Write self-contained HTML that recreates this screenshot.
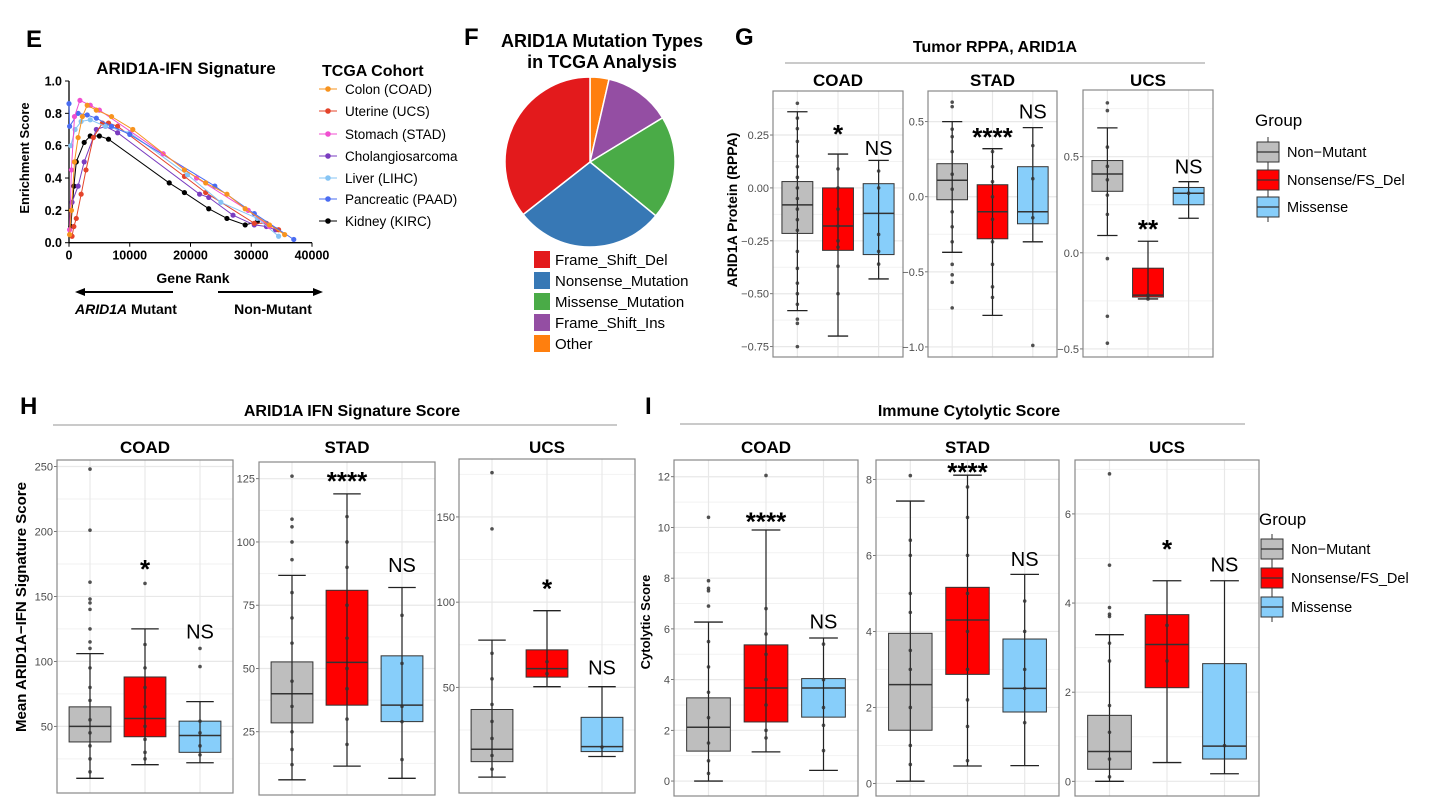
<!DOCTYPE html>
<html><head><meta charset="utf-8">
<style>
html,body{margin:0;padding:0;background:#fff;}
svg{display:block;font-family:"Liberation Sans",Arial,sans-serif;}
</style></head>
<body>
<svg id="fig" width="1439" height="809" viewBox="0 0 1439 809" xmlns="http://www.w3.org/2000/svg">
<!-- Panel letters -->
<text x="26" y="47" font-size="24" font-weight="bold">E</text>
<text x="464" y="45" font-size="24" font-weight="bold">F</text>
<text x="735" y="45" font-size="24" font-weight="bold">G</text>
<text x="20" y="414" font-size="24" font-weight="bold">H</text>
<text x="645" y="414" font-size="24" font-weight="bold">I</text>

<!-- E -->
<g id="panelE">
<text x="186" y="74" font-size="17" font-weight="bold" text-anchor="middle">ARID1A-IFN Signature</text>
<text x="29" y="158" font-size="13" font-weight="bold" text-anchor="middle" transform="rotate(-90 29 158)">Enrichment Score</text>
<text x="193" y="283" font-size="14" font-weight="bold" text-anchor="middle">Gene Rank</text>
<line x1="173" y1="292" x2="82" y2="292" stroke="#000" stroke-width="2"/>
<polygon points="75,292 85,288 85,296" fill="#000"/>
<line x1="218" y1="292" x2="316" y2="292" stroke="#000" stroke-width="2"/>
<polygon points="323,292 313,288 313,296" fill="#000"/>
<text x="126" y="314" font-size="14" font-weight="bold" text-anchor="middle"><tspan font-style="italic">ARID1A</tspan> Mutant</text>
<text x="273" y="314" font-size="14" font-weight="bold" text-anchor="middle">Non-Mutant</text>
<text x="322" y="76" font-size="16" font-weight="bold">TCGA Cohort</text>
</g>

<!-- F -->
<g id="panelF">
<text x="602" y="47" font-size="18" font-weight="bold" text-anchor="middle">ARID1A Mutation Types</text>
<text x="602" y="68" font-size="18" font-weight="bold" text-anchor="middle">in TCGA Analysis</text>
</g>

<!-- G headers -->
<text x="995" y="52" font-size="16" font-weight="bold" text-anchor="middle">Tumor RPPA, ARID1A</text>
<line x1="785" y1="63" x2="1205" y2="63" stroke="#aaa" stroke-width="1.2"/>
<!-- H headers -->
<text x="352" y="416" font-size="16" font-weight="bold" text-anchor="middle">ARID1A IFN Signature Score</text>
<line x1="53" y1="425" x2="617" y2="425" stroke="#aaa" stroke-width="1.2"/>
<!-- I headers -->
<text x="969" y="416" font-size="16" font-weight="bold" text-anchor="middle">Immune Cytolytic Score</text>
<line x1="680" y1="424" x2="1245" y2="424" stroke="#aaa" stroke-width="1.2"/>

<text x="737" y="210" font-size="14" font-weight="bold" text-anchor="middle" transform="rotate(-90 737 210)">ARID1A Protein (RPPA)</text>
<text x="26" y="607" font-size="15" font-weight="bold" text-anchor="middle" transform="rotate(-90 26 607)">Mean ARID1A−IFN Signature Score</text>
<text x="650" y="622" font-size="13" font-weight="bold" text-anchor="middle" transform="rotate(-90 650 622)">Cytolytic Score</text>
</svg>

<script>
// ---------- Panel E data ----------
const eCohorts = ['Colon (COAD)','Uterine (UCS)','Stomach (STAD)','Cholangiosarcoma','Liver (LIHC)','Pancreatic (PAAD)','Kidney (KIRC)'];
const eColors = ['#f7931e','#e4432a','#f04fd0','#7a3cc0','#86c4f4','#4a6cf2','#000000'];
const eRankCOAD = [100,400,900,1500,2200,3000,4500,7000,10500,19000,22500,26000,29000,33000,35500];
const eEsCOAD   = [0.05,0.2,0.5,0.65,0.78,0.85,0.82,0.78,0.70,0.45,0.37,0.30,0.21,0.11,0.05];
const eRankUCS = [500,800,1200,2000,2800,4000,5500,6500,8000,19000,22500,30500,32500,34500];
const eEsUCS   = [0.04,0.10,0.15,0.30,0.45,0.65,0.74,0.74,0.72,0.41,0.31,0.12,0.12,0.08];
const eRankSTAD = [100,400,900,1800,3500,5000,15500,21000,29500,33000];
const eEsSTAD   = [0.08,0.45,0.78,0.88,0.85,0.82,0.55,0.40,0.20,0.10];
const eRankCHOL = [500,1500,2500,4500,6000,8000,21500,23000,27000,30500,32500,34000];
const eEsCHOL   = [0.25,0.35,0.50,0.70,0.72,0.68,0.30,0.28,0.17,0.11,0.10,0.08];
const eRankLIHC = [300,1000,2000,3500,6000,10000,19500,25000,31000,34500];
const eEsLIHC   = [0.60,0.70,0.75,0.76,0.72,0.68,0.42,0.25,0.15,0.04];
const eRankPAAD = [0,100,1500,3000,4500,7000,10000,24000,30500,37000];
const eEsPAAD   = [0.86,0.72,0.80,0.79,0.77,0.72,0.67,0.35,0.18,0.02];
const eRankKIRC = [300,800,1200,2500,3500,5000,6500,16500,19000,23000,26000,29000,31000];
const eEsKIRC   = [0.10,0.35,0.50,0.62,0.66,0.66,0.64,0.37,0.31,0.21,0.15,0.11,0.13];
const eXTicks = [0,10000,20000,30000,40000];
const eYTicks = [0,0.2,0.4,0.6,0.8,1.0];

// ---------- Panel F data ----------
const fLabels = ['Other','Frame_Shift_Ins','Missense_Mutation','Nonsense_Mutation','Frame_Shift_Del'];
const fValues = [3.6,12.7,19.6,28.5,35.6];
const fColors = ['#ff7f0e','#944ea3','#4aab47','#3778b5','#e31a1c'];
const fLegendOrder = [4,3,2,1,0];

// ---------- Box panels data: [low whisker, q1, median, q3, high whisker] per group ----------
const groupNames = ['Non−Mutant','Nonsense/FS_Del','Missense'];
const groupFill = ['#bebebe','#ff0000','#87cefa'];

const gCoadBoxes = [[-0.58,-0.215,-0.08,0.03,0.36],[-0.70,-0.295,-0.18,0.0,0.16],[-0.43,-0.315,-0.12,0.02,0.13]];
const gCoadPoints = [[0.40,0.33,0.28,0.22,0.15,0.10,0.05,0.0,-0.05,-0.1,-0.15,-0.2,-0.3,-0.38,-0.45,-0.5,-0.55,-0.62,-0.64,-0.75],[0.09,0.0,-0.1,-0.18,-0.25,-0.37,-0.5,-0.28],[0.08,0.0,-0.22,-0.3,-0.36]];
const gCoadTicks = [0.25,0,-0.25,-0.5,-0.75];
const gCoadTickLabels = ['0.25','0.00','−0.25','−0.50','−0.75'];
const gCoadSig = ['','*','NS'];
const gCoadSigY = [0,0.274,0.189];

const gStadBoxes = [[-0.37,-0.02,0.11,0.22,0.5],[-0.79,-0.28,-0.1,0.08,0.32],[-0.3,-0.18,-0.1,0.2,0.46]];
const gStadPoints = [[0.63,0.6,0.45,0.4,0.3,0.15,0.05,-0.1,-0.2,-0.3,-0.45,-0.52,-0.57,-0.74],[0.3,0.2,0.1,0.0,-0.15,-0.3,-0.45,-0.6,-0.67],[0.34,0.12,-0.14,-0.99]];
const gStadTicks = [0.5,0,-0.5,-1.0];
const gStadTickLabels = ['0.5','0.0','−0.5','−1.0'];
const gStadSig = ['','****','NS'];
const gStadSigY = [0,0.425,0.567];

const gUcsBoxes = [[0.09,0.32,0.41,0.48,0.65],[-0.24,-0.23,-0.22,-0.08,0.06],[0.18,0.25,0.31,0.34,0.37]];
const gUcsPoints = [[0.78,0.74,0.55,0.45,0.38,0.3,0.2,-0.03,-0.33,-0.47],[-0.22,-0.24],[0.31]];
const gUcsTicks = [0.5,0,-0.5];
const gUcsTickLabels = ['0.5','0.0','−0.5'];
const gUcsSig = ['','**','NS'];
const gUcsSigY = [0,0.145,0.448];

const hCoadBoxes = [[10,38,50,65,106],[20.5,42,56,88,125],[22,30,43,54,69]];
const hCoadPoints = [[248,201,161,148,145,140,125,115,110,95,80,70,55,45,35,25,15],[160,113,95,80,65,50,40,30,25],[110,96,54,45,35,28]];
const hCoadTicks = [50,100,150,200,250];
const hCoadTickLabels = ['50','100','150','200','250'];
const hCoadSig = ['','*','NS'];
const hCoadSigY = [0,174,123];

const hStadBoxes = [[6,28.5,40,52.6,86.8],[11.4,35.5,52.4,80.9,119],[6.6,29,35.5,55,82]];
const hStadPoints = [[126,109,106,100,93,80,70,60,45,35,25,18,12],[110,100,90,75,62,50,42,30,20],[71,52,35,29,14]];
const hStadTicks = [25,50,75,100,125];
const hStadTickLabels = ['25','50','75','100','125'];
const hStadSig = ['','****','NS'];
const hStadSigY = [0,125.6,90.8];

const hUcsBoxes = [[-2.7,6.4,13.7,37,77.7],[50.4,56,61,72,95],[9.4,12.3,15.2,32.4,50.4]];
const hUcsPoints = [[176,143,70,55,40,30,20,10,2],[65,58],[15]];
const hUcsTicks = [50,100,150];
const hUcsTickLabels = ['50','100','150'];
const hUcsSig = ['','*','NS'];
const hUcsSigY = [0,110.5,61.7];

const iCoadBoxes = [[0,1.18,2.12,3.28,6.27],[1.15,2.33,3.67,5.37,9.9],[0.42,2.52,3.67,4.04,5.64]];
const iCoadPoints = [[10.4,7.9,7.6,7.5,6.9,5.5,4.5,3.5,2.5,1.5,0.8,0.3],[12.05,6.8,5.8,5.0,4.0,3.0,2.0,1.7],[5.4,4.0,2.9,2.2,1.2]];
const iCoadTicks = [0,2,4,6,8,10,12];
const iCoadTickLabels = ['0','2','4','6','8','10','12'];
const iCoadSig = ['','****','NS'];
const iCoadSigY = [0,10.4,6.3];

const iStadBoxes = [[0.06,1.4,2.6,3.95,7.43],[0.46,2.87,4.3,5.16,8.11],[0.47,1.88,2.5,3.8,5.5]];
const iStadPoints = [[8.1,6.4,6.0,5.0,4.5,3.5,3.0,2.0,1.0,0.5],[7.8,7.0,6.0,5.0,4.0,3.0,2.2,1.5,0.6],[4.8,4.0,3.0,2.5,1.6]];
const iStadTicks = [0,2,4,6,8];
const iStadTickLabels = ['0','2','4','6','8'];
const iStadSig = ['','****','NS'];
const iStadSigY = [0,8.3,5.9];

const iUcsBoxes = [[0,0.27,0.67,1.48,3.29],[0.42,2.1,3.07,3.74,4.5],[0.17,0.5,0.79,2.64,4.5]];
const iUcsPoints = [[6.9,4.85,3.9,3.75,3.7,3.1,2.7,1.7,1.1,0.5,0.1],[3.5,2.7],[0.8]];
const iUcsTicks = [0,2,4,6];
const iUcsTickLabels = ['0','2','4','6'];
const iUcsSig = ['','*','NS'];
const iUcsSigY = [0,5.3,4.86];

// ---------- helpers ----------
const NS = 'http://www.w3.org/2000/svg';
const svg = document.getElementById('fig');
function mk(tag, attrs, parent){
  const el = document.createElementNS(NS, tag);
  for (const k in attrs) el.setAttribute(k, attrs[k]);
  (parent||svg).appendChild(el);
  return el;
}

// ---------- draw E ----------
(function(){
  const g = document.getElementById('panelE');
  const xL = 69, xR = 312, yT = 81, yB = 242.7;
  const sx = v => xL + (v-0)/(40000-0)*(xR-xL);
  const sy = v => yB - (v-0)/(1-0)*(yB-yT);
  let ax = mk('line',{x1:xL,y1:yB,x2:xR,y2:yB,stroke:'#000','stroke-width':1.3},g);
  
  
  let ay = mk('line',{x1:xL,y1:yT,x2:xL,y2:yB,stroke:'#000','stroke-width':1.3},g);
  
  
  eXTicks.forEach(t=>{
    mk('line',{x1:sx(t),y1:yB,x2:sx(t),y2:yB+4,stroke:'#000'},g);
    const tx = mk('text',{x:sx(t),y:yB+17,'font-size':12.5,'font-weight':'bold','text-anchor':'middle'},g);
    tx.textContent = t;
    
    
  });
  eYTicks.forEach(t=>{
    mk('line',{x1:xL-4,y1:sy(t),x2:xL,y2:sy(t),stroke:'#000'},g);
    const tx = mk('text',{x:xL-7,y:sy(t)+4.5,'font-size':12.5,'font-weight':'bold','text-anchor':'end'},g);
    tx.textContent = t.toFixed(1);
    
    
  });
  const ranks = [eRankCOAD,eRankUCS,eRankSTAD,eRankCHOL,eRankLIHC,eRankPAAD,eRankKIRC];
  const ess = [eEsCOAD,eEsUCS,eEsSTAD,eEsCHOL,eEsLIHC,eEsPAAD,eEsKIRC];
  const order = [6,3,1,4,5,2,0];
  order.forEach(i=>{
    const pts = ranks[i].map((r,j)=>sx(r).toFixed(1)+','+sy(ess[i][j]).toFixed(1)).join(' ');
    const pl = mk('polyline',{points:pts,fill:'none',stroke:eColors[i],'stroke-width':1},g);
    
    
    ranks[i].forEach((r,j)=>{
      const c = mk('circle',{cx:sx(r),cy:sy(ess[i][j]),r:2.6,fill:eColors[i]},g);
      
      
    });
  });
  const ly = [89,111,134,156,178,199,221];
  eCohorts.forEach((n,i)=>{
    mk('line',{x1:319,y1:ly[i],x2:337,y2:ly[i],stroke:eColors[i],'stroke-width':1},g);
    const c = mk('circle',{cx:328,cy:ly[i],r:2.8,fill:eColors[i]},g);
    
    
    const t = mk('text',{x:345,y:ly[i]+5,'font-size':13.5},g);
    t.textContent = n;
    
    
  });
})();

// ---------- draw F ----------
(function(){
  const g = document.getElementById('panelF');
  const cx = 590, cy = 162, r = 85;
  const total = fValues.reduce((a,b)=>a+b,0);
  let acc = 0;
  fValues.forEach((v,i)=>{
    const a0 = acc/total*2*Math.PI; acc += v; const a1 = acc/total*2*Math.PI;
    const x0 = cx + r*Math.sin(a0), y0 = cy - r*Math.cos(a0);
    const x1 = cx + r*Math.sin(a1), y1 = cy - r*Math.cos(a1);
    const large = (a1-a0) > Math.PI ? 1 : 0;
    const p = mk('path',{d:`M${cx},${cy} L${x0},${y0} A${r},${r} 0 ${large} 1 ${x1},${y1} Z`,fill:fColors[i],stroke:'#fff','stroke-width':1.5},g);
    
    
  });
  const ly = [259,280,301,322,343];
  fLegendOrder.forEach((k,j)=>{
    const s = mk('rect',{x:534,y:ly[j]-8,width:16,height:17,fill:fColors[k]},g);
    
    
    const t = mk('text',{x:555,y:ly[j]+6,'font-size':15},g);
    t.textContent = fLabels[k];
    
    
  });
})();

// ---------- box panel ----------
function boxPanel(name, title, titleY, x0, x1, y0, y1, lo, hi, ticks, tickLabels, boxes, points, sig, sigY){
  const g = mk('g',{});
  
  
  const sy = v => y1 - (v-lo)/(hi-lo)*(y1-y0);
  const cw = (x1-x0)/3.2;
  const cxp = i => x0 + cw*(0.6+i);
  const tt = mk('text',{x:(x0+x1)/2,y:titleY,'font-size':17,'font-weight':'bold','text-anchor':'middle'},g);
  tt.textContent = title;
  
  
  // minor grid
  for (let k=0;k<ticks.length+1;k++){
    const step = ticks.length>1 ? (ticks[1]-ticks[0]) : 1;
    const base = Math.min(...ticks);
    const v = base + step*(k-0.5)*Math.sign(step)*Math.sign(step);
    const vv = Math.min(...ticks) + Math.abs(step)*(k-0.5);
    if (sy(vv) > y0 && sy(vv) < y1) mk('line',{x1:x0,y1:sy(vv),x2:x1,y2:sy(vv),stroke:'#f2f2f2','stroke-width':1},g);
  }
  ticks.forEach((t,k)=>{
    mk('line',{x1:x0,y1:sy(t),x2:x1,y2:sy(t),stroke:'#e8e8e8','stroke-width':1.2},g);
    mk('line',{x1:x0-3,y1:sy(t),x2:x0,y2:sy(t),stroke:'#555','stroke-width':0.8},g);
    const tl = mk('text',{x:x0-4,y:sy(t)+4,'font-size':11,fill:'#4d4d4d','text-anchor':'end'},g);
    tl.textContent = tickLabels[k];
    
    
  });
  for (let i=0;i<3;i++) mk('line',{x1:cxp(i),y1:y0,x2:cxp(i),y2:y1,stroke:'#e8e8e8','stroke-width':1.2},g);
  boxes.forEach((b,i)=>{
    const cx = cxp(i), bw = cw*0.76, capw = cw*0.5;
    mk('line',{x1:cx,y1:sy(b[0]),x2:cx,y2:sy(b[4]),stroke:'#222','stroke-width':1.2},g);
    mk('line',{x1:cx-capw/2,y1:sy(b[0]),x2:cx+capw/2,y2:sy(b[0]),stroke:'#222','stroke-width':1.3},g);
    mk('line',{x1:cx-capw/2,y1:sy(b[4]),x2:cx+capw/2,y2:sy(b[4]),stroke:'#222','stroke-width':1.3},g);
    const r = mk('rect',{x:cx-bw/2,y:sy(b[3]),width:bw,height:sy(b[1])-sy(b[3]),fill:groupFill[i],stroke:'#333','stroke-width':1},g);
    
    
    mk('line',{x1:cx-bw/2,y1:sy(b[2]),x2:cx+bw/2,y2:sy(b[2]),stroke:'#333','stroke-width':1.5},g);
    mk('line',{x1:cx,y1:sy(b[1]),x2:cx,y2:sy(b[3]),stroke:'#222','stroke-width':1.2},g);
    points[i].forEach(p=>{
      const c = mk('circle',{cx:cx,cy:sy(p),r:1.8,fill:'#333','fill-opacity':0.85},g);
      
      
    });
    if (sig[i]){
      const isStar = sig[i].indexOf('*')>=0;
      const st = mk('text',{x:cx,y:sy(sigY[i]) + (isStar?13:7),'font-size':isStar?26:20,'font-weight':isStar?'bold':'normal','text-anchor':'middle'},g);
      st.textContent = sig[i];
      
      
    }
  });
  const fr = mk('rect',{x:x0,y:y0,width:x1-x0,height:y1-y0,fill:'none',stroke:'#888','stroke-width':1.2},g);
  
  
}

boxPanel('g-coad','COAD',86,773,903,91,357,-0.799,0.458,gCoadTicks,gCoadTickLabels,gCoadBoxes,gCoadPoints,gCoadSig,gCoadSigY);
boxPanel('g-stad','STAD',86,928,1057,91,357,-1.067,0.704,gStadTicks,gStadTickLabels,gStadBoxes,gStadPoints,gStadSig,gStadSigY);
boxPanel('g-ucs','UCS',86,1083,1213,90,357,-0.542,0.847,gUcsTicks,gUcsTickLabels,gUcsBoxes,gUcsPoints,gUcsSig,gUcsSigY);

boxPanel('h-coad','COAD',453,57,233,460,793,-1.3,255,hCoadTicks,hCoadTickLabels,hCoadBoxes,hCoadPoints,hCoadSig,hCoadSigY);
boxPanel('h-stad','STAD',453,259,435,462,795,0,131.6,hStadTicks,hStadTickLabels,hStadBoxes,hStadPoints,hStadSig,hStadSigY);
boxPanel('h-ucs','UCS',453,459,635,459,793,-12,184,hUcsTicks,hUcsTickLabels,hUcsBoxes,hUcsPoints,hUcsSig,hUcsSigY);

boxPanel('i-coad','COAD',453,674,858,460,796,-0.59,12.66,iCoadTicks,iCoadTickLabels,iCoadBoxes,iCoadPoints,iCoadSig,iCoadSigY);
boxPanel('i-stad','STAD',453,876,1059,460,796,-0.33,8.51,iStadTicks,iStadTickLabels,iStadBoxes,iStadPoints,iStadSig,iStadSigY);
boxPanel('i-ucs','UCS',453,1075,1259,460,796,-0.33,7.21,iUcsTicks,iUcsTickLabels,iUcsBoxes,iUcsPoints,iUcsSig,iUcsSigY);

// ---------- group legends ----------
function groupLegend(name, x, titleY, rowsY){
  const t = mk('text',{x:x,y:titleY,'font-size':17});
  t.textContent = 'Group';
  
  
  rowsY.forEach((y,i)=>{
    mk('line',{x1:x+13,y1:y-15,x2:x+13,y2:y+15,stroke:'#333','stroke-width':1});
    const s = mk('rect',{x:x+2,y:y-10,width:22,height:20,fill:groupFill[i],stroke:'#333','stroke-width':1});
    
    
    mk('line',{x1:x+2,y1:y,x2:x+24,y2:y,stroke:'#333','stroke-width':1.3});
    const e = mk('text',{x:x+32,y:y+5,'font-size':14.5});
    e.textContent = groupNames[i];
    
    
  });
}
groupLegend('g-legend',1255,126,[152,180,207]);
groupLegend('i-legend',1259,525,[549,578,607]);
</script>
</body></html>
